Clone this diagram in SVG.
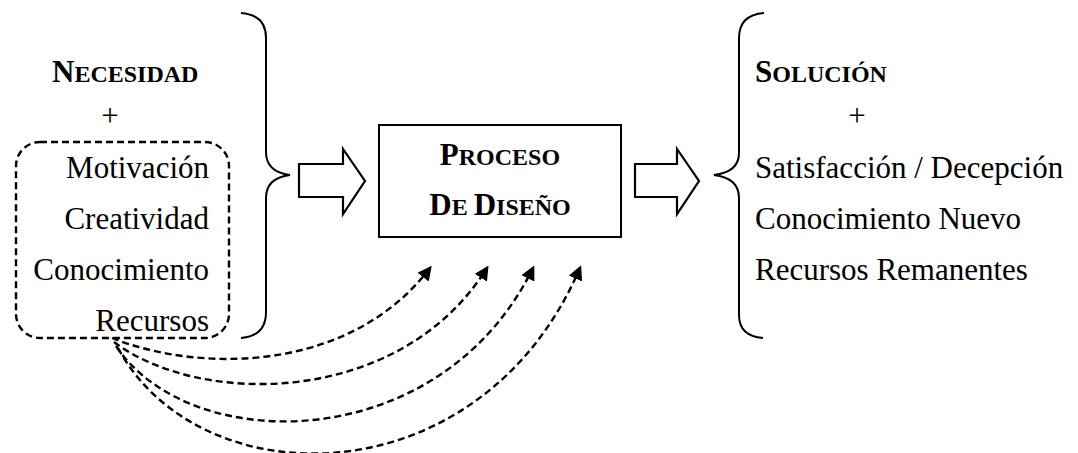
<svg xmlns="http://www.w3.org/2000/svg" width="1078" height="453" viewBox="0 0 1078 453">
<style>
text{font-family:"Liberation Serif","Times New Roman",serif;fill:#000}
.t{font-size:31px}
.b{font-weight:bold}
.big{font-size:31px}
.sm{font-size:24px}
.ln{fill:none;stroke:#000;stroke-width:2}
.dash{fill:none;stroke:#000;stroke-width:2.4;stroke-dasharray:7 4}
.harrow{fill:#fff;stroke:#000;stroke-width:2.2;stroke-linejoin:miter}
</style>
<defs>
<marker id="ah" viewBox="0 0 10 10" refX="8" refY="5" markerWidth="6" markerHeight="6" orient="auto" markerUnits="strokeWidth">
<path d="M0,0 L10,5 L0,10 z" fill="#000"/>
</marker>
</defs>
<rect width="1078" height="453" fill="#fff"/>

<g id="inputs">
<text x="52" y="82" class="b"><tspan class="big">N</tspan><tspan class="sm">ECESIDAD</tspan></text>
<text x="110" y="126" class="t" text-anchor="middle">+</text>
<rect x="16" y="142" width="213" height="196" rx="24" ry="24" class="dash"/>
<text x="209" y="178" class="t" text-anchor="end">Motivación</text>
<text x="209" y="229" class="t" text-anchor="end">Creatividad</text>
<text x="209" y="280" class="t" text-anchor="end">Conocimiento</text>
<text x="209" y="331" class="t" text-anchor="end">Recursos</text>
</g>

<g id="left-brace">
<path class="ln" d="M241,13 Q266,15 266,38 L266,152 Q266,172 290,175 Q266,178 266,198 L266,312 Q266,336 241,338"/>
</g>

<g id="process">
<rect x="379" y="125" width="242" height="112" class="ln"/>
<text x="500" y="165" class="b" text-anchor="middle"><tspan class="big">P</tspan><tspan class="sm">ROCESO</tspan></text>
<text x="500" y="215" class="b" text-anchor="middle"><tspan class="big">D</tspan><tspan class="sm">E </tspan><tspan class="big">D</tspan><tspan class="sm">ISEÑO</tspan></text>
</g>

<g id="right-brace">
<path class="ln" d="M764,13 Q739,15 739,38 L739,153 Q739,172 714,175 Q739,178 739,198 L739,315 Q739,336 763,338"/>
</g>

<g id="outputs">
<text x="755" y="82" class="b"><tspan class="big">S</tspan><tspan class="sm">OLUCIÓN</tspan></text>
<text x="857" y="126" class="t" text-anchor="middle">+</text>
<text x="755" y="178" class="t">Satisfacción / Decepción</text>
<text x="755" y="229" class="t">Conocimiento Nuevo</text>
<text x="755" y="280" class="t">Recursos Remanentes</text>
</g>

<g id="connectors">
<polygon class="harrow" points="299,164 343,164 343,149 365,181 343,214 343,197 299,197"/>
<polygon class="harrow" points="635,164 677,164 677,149 699,181 677,214 677,197 635,197"/>
<path class="dash" marker-end="url(#ah)" d="M112,338 C200,373 350,373 430,268"/>
<path class="dash" marker-end="url(#ah)" d="M114,342 C200,407 400,407 487,268"/>
<path class="dash" marker-end="url(#ah)" d="M116,346 C190,457 440,457 533,268"/>
<path class="dash" marker-end="url(#ah)" d="M118,348 C200,500 480,500 580,268"/>
</g>
</svg>
